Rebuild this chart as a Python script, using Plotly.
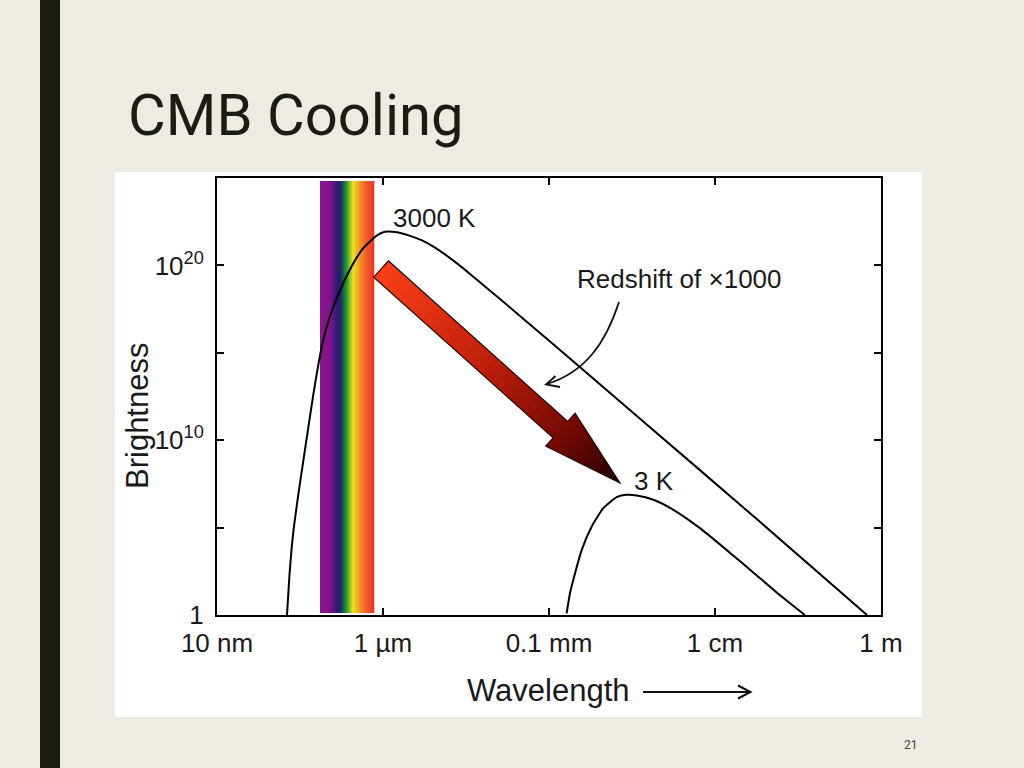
import plotly.graph_objects as go

W, H = 1024, 768

# ---------------- data ----------------
wavelength_3000k_m = [6.97e-8, 7.47e-8, 8.23e-8, 9.46e-8, 1.087e-7, 1.249e-7, 1.434e-7,
                      1.625e-7, 1.841e-7, 2.174e-7, 2.791e-7, 4.004e-7, 5.741e-7, 8.47e-7,
                      1.057e-6, 1.475e-6, 2.115e-6, 2.951e-6, 4.004e-6, 5.585e-6, 7.791e-6,
                      1.117e-5, 1.694e-5, 2.568e-5, 1.03e-4, 1.25e-3, 3.48e-2, 6.78e-1]
brightness_3000k = [1.0, 196, 3.84e4, 5.78e6, 5.14e8, 4.00e10, 3.11e12,
                    1.10e14, 2.60e15, 5.42e16, 1.47e18, 5.90e19, 9.42e20, 5.24e21,
                    8.32e21, 7.78e21, 4.91e21, 2.71e21, 1.23e21, 4.27e20, 1.30e20,
                    3.26e19, 6.26e18, 1.20e18, 4.42e15, 1.71e11, 2.14e5, 1.0]

wavelength_3k_m = [1.63e-4, 1.79e-4, 2.06e-4, 2.48e-4, 3.27e-4, 4.51e-4, 6.55e-4,
                   8.63e-4, 1.14e-3, 1.81e-3, 3.15e-3, 6.59e-3, 1.52e-2, 2.89e-2,
                   5.53e-2, 1.21e-1]
brightness_3k = [1.25, 17.5, 245, 5310, 1.15e5, 1.30e6, 5.56e6,
                 7.53e6, 6.87e6, 3.89e6, 1.04e6, 9.29e4, 3570, 273,
                 19.5, 1.0]

x_tick_vals = [1e-8, 1e-6, 1e-4, 1e-2, 1]
x_tick_text = ["10 nm", "1 \u00b5m", "0.1 mm", "1 cm", "1 m"]
y_tick_vals = [1, 1e10, 1e20]
y_tick_text = ["1", "10<sup>10</sup>", "10<sup>20</sup>"]
y_minor_tick_vals = [1e5, 1e15]

curve_labels = ["3000 K", "3 K"]

# ---------------- helpers (pixel -> paper) ----------------
def px(x):
    return x / W


def py(y):
    return 1 - y / H


def pt(x, y):
    return f"{px(x):.5f},{py(y):.5f}"


def poly(points):
    return "M " + " L ".join(pt(x, y) for x, y in points) + " Z"


shapes = []

# white picture panel
shapes.append(dict(type="rect", xref="paper", yref="paper", layer="below",
                   x0=px(115), x1=px(922), y0=py(717), y1=py(172),
                   fillcolor="white", line=dict(width=0)))
# dark bar on the left of the slide
shapes.append(dict(type="rect", xref="paper", yref="paper", layer="below",
                   x0=px(40), x1=px(60), y0=0, y1=1,
                   fillcolor="#1d1c12", line=dict(width=0)))

# rainbow band (visible light)
band_stops = [(0, (140, 20, 140)), (10, (130, 18, 138)), (14, (80, 22, 135)),
              (18, (45, 25, 105)), (21, (28, 45, 100)), (24, (25, 110, 70)),
              (27, (50, 160, 50)), (30, (140, 200, 35)), (33, (235, 225, 30)),
              (36, (245, 190, 35)), (41, (245, 140, 35)), (46, (242, 95, 40)),
              (54, (238, 50, 35))]


def band_color(o):
    for (o0, c0), (o1, c1) in zip(band_stops[:-1], band_stops[1:]):
        if o0 <= o <= o1:
            f = (o - o0) / (o1 - o0)
            c = [round(a + (b - a) * f) for a, b in zip(c0, c1)]
            return f"rgb({c[0]},{c[1]},{c[2]})"
    c = band_stops[-1][1]
    return f"rgb({c[0]},{c[1]},{c[2]})"


BX0, BX1, BY0, BY1 = 320, 374, 181, 613
for i in range(BX1 - BX0):
    shapes.append(dict(type="rect", xref="paper", yref="paper", layer="below",
                       x0=px(BX0 + i), x1=px(BX0 + i + 1.3),
                       y0=py(BY1), y1=py(BY0),
                       fillcolor=band_color(i + 0.5), line=dict(width=0)))

# big gradient arrow (red -> dark)
tail = (381.0, 269.0)
tip = (620.0, 483.0)
dx, dy = tip[0] - tail[0], tip[1] - tail[1]
L = (dx * dx + dy * dy) ** 0.5
ux, uy = dx / L, dy / L
nx, ny = uy, -ux
shaft_hw, head_hw, head_len = 11.0, 22.0, 80.0
sb = L - head_len


def hw(s):
    if s < sb:
        return shaft_hw
    return head_hw * (L - s) / head_len


def at(s, t):
    return (tail[0] + ux * s + nx * t, tail[1] + uy * s + ny * t)


grad_stops = [(0.0, (250, 64, 24)), (0.45, (190, 30, 10)), (0.8, (110, 8, 2)), (1.0, (30, 0, 0))]


def grad_color(f):
    for (f0, c0), (f1, c1) in zip(grad_stops[:-1], grad_stops[1:]):
        if f0 <= f <= f1:
            g = (f - f0) / (f1 - f0)
            c = [round(a + (b - a) * g) for a, b in zip(c0, c1)]
            return f"rgb({c[0]},{c[1]},{c[2]})"
    return "rgb(30,0,0)"


N_SHAFT, N_HEAD = 30, 14
cuts = [sb * i / N_SHAFT for i in range(N_SHAFT + 1)]
cuts += [sb + head_len * i / N_HEAD for i in range(1, N_HEAD + 1)]
for a, b in zip(cuts[:-1], cuts[1:]):
    b2 = min(b + 0.8, L)
    if a < sb:
        wa = wb = shaft_hw
    else:
        wa, wb = hw(a), hw(b2)
    pts = [at(a, wa), at(b2, wb), at(b2, -wb), at(a, -wa)]
    shapes.append(dict(type="path", xref="paper", yref="paper", layer="above",
                       path=poly(pts), fillcolor=grad_color((a + b) / 2 / L),
                       line=dict(width=0)))
outline = [at(0, shaft_hw), at(sb, shaft_hw), at(sb, head_hw), tip,
           at(sb, -head_hw), at(sb, -shaft_hw), at(0, -shaft_hw)]
shapes.append(dict(type="path", xref="paper", yref="paper", layer="above",
                   path=poly(outline), line=dict(color="#1a0a05", width=1.2)))

# curved pointer from the "Redshift" label
shapes.append(dict(type="path", xref="paper", yref="paper", layer="above",
                   path=f"M {pt(619, 302)} C {pt(606, 342)} {pt(586, 372)} {pt(547, 384)}",
                   line=dict(color="#111", width=1.8)))
shapes.append(dict(type="path", xref="paper", yref="paper", layer="above",
                   path=f"M {pt(555.5, 376)} L {pt(546, 384.5)} L {pt(560, 387)}",
                   line=dict(color="#111", width=1.8)))

# wavelength arrow
shapes.append(dict(type="line", xref="paper", yref="paper", layer="above",
                   x0=px(643), x1=px(750), y0=py(692), y1=py(692),
                   line=dict(color="#111", width=2)))
shapes.append(dict(type="path", xref="paper", yref="paper", layer="above",
                   path=f"M {pt(738, 685.5)} L {pt(750.5, 692)} L {pt(738, 698.5)}",
                   line=dict(color="#111", width=2)))

# ---------------- figure ----------------
fig = go.Figure()
fig.add_trace(go.Scatter(x=wavelength_3000k_m, y=brightness_3000k, mode="lines",
                         name=curve_labels[0],
                         line=dict(color="black", width=2, shape="spline", smoothing=0.5)))
fig.add_trace(go.Scatter(x=wavelength_3k_m, y=brightness_3k, mode="lines",
                         name=curve_labels[1],
                         line=dict(color="black", width=2, shape="spline", smoothing=0.5)))

FONT = "Liberation Sans, Arial, Helvetica, sans-serif"
TXT = "#1a1a1a"

annotations = [
    dict(text="CMB Cooling", x=px(126), y=py(115), xanchor="left", yanchor="middle",
         font=dict(family="Roboto, sans-serif", size=58, color="#1d1c12")),
    dict(text="21", x=px(911), y=py(745), xanchor="center", yanchor="middle",
         font=dict(family="Roboto, sans-serif", size=12, color="#444")),
    dict(text=curve_labels[0], x=px(391), y=py(218), xanchor="left", yanchor="middle",
         font=dict(family=FONT, size=26, color=TXT)),
    dict(text=curve_labels[1], x=px(632), y=py(481), xanchor="left", yanchor="middle",
         font=dict(family=FONT, size=26, color=TXT)),
    dict(text="Redshift of \u00d71000", x=px(575), y=py(279), xanchor="left", yanchor="middle",
         font=dict(family=FONT, size=26, color=TXT)),
    dict(text="Wavelength", x=px(548), y=py(690), xanchor="center", yanchor="middle",
         font=dict(family=FONT, size=31, color=TXT)),
    dict(text="Brightness", x=px(137), y=py(416), xanchor="center", yanchor="middle",
         textangle=-90, font=dict(family=FONT, size=31, color=TXT)),
]
for a in annotations:
    a.update(xref="paper", yref="paper", showarrow=False)

fig.update_layout(
    width=W, height=H, autosize=False,
    margin=dict(l=0, r=0, t=0, b=0, pad=0, autoexpand=False),
    paper_bgcolor="#edebe4", plot_bgcolor="rgba(0,0,0,0)",
    showlegend=False,
    shapes=shapes, annotations=annotations,
    xaxis=dict(type="log", range=[-8, 0], domain=[px(217), px(881)], automargin=False,
               showgrid=False, zeroline=False, showline=True, linecolor="black",
               linewidth=2, mirror="ticks", ticks="inside", ticklen=7, tickwidth=2,
               tickcolor="black", tickmode="array", tickvals=x_tick_vals,
               ticktext=x_tick_text, ticklabelstandoff=4,
               tickfont=dict(family=FONT, size=26, color=TXT)),
    yaxis=dict(type="log", range=[0, 25], domain=[py(615), py(178)], automargin=False,
               showgrid=False, zeroline=False, showline=True, linecolor="black",
               linewidth=2, mirror="ticks", ticks="inside", ticklen=7, tickwidth=2,
               tickcolor="black", tickmode="array", tickvals=y_tick_vals,
               ticktext=y_tick_text, ticklabelstandoff=6,
               minor=dict(tickmode="array", tickvals=y_minor_tick_vals, ticks="inside",
                          ticklen=7, tickwidth=2, tickcolor="black", showgrid=False),
               tickfont=dict(family=FONT, size=26, color=TXT)),
)

fig.write_html("out.html", config=dict(displayModeBar=False),
               post_script="document.body.style.margin='0';document.body.style.overflow='hidden';")
